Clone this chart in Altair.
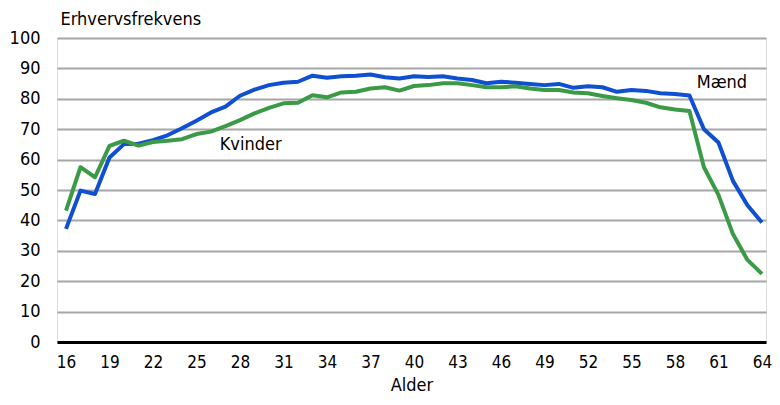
import altair as alt
import pandas as pd

ages = list(range(16, 65))
maend = [37.2, 49.8, 48.7, 60.7, 65.1, 65.2, 66.4, 68.0, 70.3, 72.8, 75.5, 77.4, 81.0, 83.0,
         84.5, 85.3, 85.6, 87.6, 86.9, 87.4, 87.6, 88.0, 87.1, 86.7, 87.4, 87.2, 87.4, 86.7,
         86.2, 85.1, 85.6, 85.3, 84.9, 84.5, 84.9, 83.6, 84.1, 83.8, 82.3, 82.9, 82.6, 81.8,
         81.6, 81.1, 70.0, 65.6, 53.0, 45.0, 39.3]
kvinder = [43.2, 57.5, 54.2, 64.5, 66.2, 64.6, 65.8, 66.2, 66.7, 68.4, 69.2, 71.0, 73.0, 75.2,
           77.0, 78.5, 78.7, 81.2, 80.5, 82.1, 82.3, 83.4, 83.8, 82.7, 84.2, 84.5, 85.1, 85.1,
           84.5, 83.8, 83.8, 84.1, 83.4, 82.9, 82.9, 82.1, 81.8, 80.9, 80.2, 79.6, 78.7, 77.2,
           76.5, 76.0, 57.5, 48.4, 35.5, 27.0, 22.4]
series = ["Mænd", "Kvinder"]
colors = ["#0f4fd1", "#3a9a45"]
x_ticks = list(range(16, 65, 3))
y_ticks = list(range(0, 101, 10))

label_text = ["Kvinder", "Mænd"]
label_x = [26.6, 59.5]
label_y = [64.8, 85.2]

font = "DejaVu Sans Condensed, sans-serif"

df = pd.DataFrame({
    "Alder": ages * 2,
    "Værdi": maend + kvinder,
    "Køn": ["Mænd"] * len(ages) + ["Kvinder"] * len(ages),
})
lab = pd.DataFrame({"t": label_text, "x": label_x, "y": label_y})

xscale = alt.Scale(domain=[15.38, 64.28], nice=False, zero=False)
yscale = alt.Scale(domain=[0, 100], nice=False)

xaxis = alt.Axis(values=x_ticks, title="Alder", grid=False, ticks=False,
                 domainColor="black", domainWidth=3, labelPadding=12,
                 labelFontSize=17, titleFontSize=18, titleFontWeight="normal",
                 labelFont=font, titleFont=font, labelColor="black",
                 titleColor="black", titlePadding=6, labelFlush=False,
                 labelOverlap=False)
yaxis = alt.Axis(values=y_ticks, title="Erhvervsfrekvens", grid=True,
                 gridColor="#a6a6a6", gridWidth=2, ticks=False, domain=False,
                 labelPadding=17, labelFontSize=18, labelFont=font,
                 labelColor="black", titleFont=font, titleFontSize=18,
                 titleFontWeight="normal", titleColor="black", titleAngle=0,
                 titleAlign="left", titleBaseline="bottom", titleX=3, titleY=-10,
                 labelOverlap=False, tickCount=11)

lines = alt.Chart(df).mark_line(strokeWidth=4, strokeJoin="round").encode(
    x=alt.X("Alder:Q", scale=xscale, axis=xaxis),
    y=alt.Y("Værdi:Q", scale=yscale, axis=yaxis),
    color=alt.Color("Køn:N", scale=alt.Scale(domain=series, range=colors), legend=None),
    detail="Køn:N",
)

texts = alt.Chart(lab).mark_text(align="left", baseline="middle", fontSize=18,
                                 font=font, color="black").encode(
    x=alt.X("x:Q", scale=xscale, axis=xaxis),
    y=alt.Y("y:Q", scale=yscale, axis=yaxis),
    text="t:N")

chart = (lines + texts).properties(
    width=709, height=304,
    autosize=alt.AutoSizeParams(type="none"),
    padding={"left": 49, "top": 30, "right": 6, "bottom": 55},
).configure_view(stroke=None).configure(background="white")

chart.save("out.html", embed_options={"renderer": "svg", "actions": False})
